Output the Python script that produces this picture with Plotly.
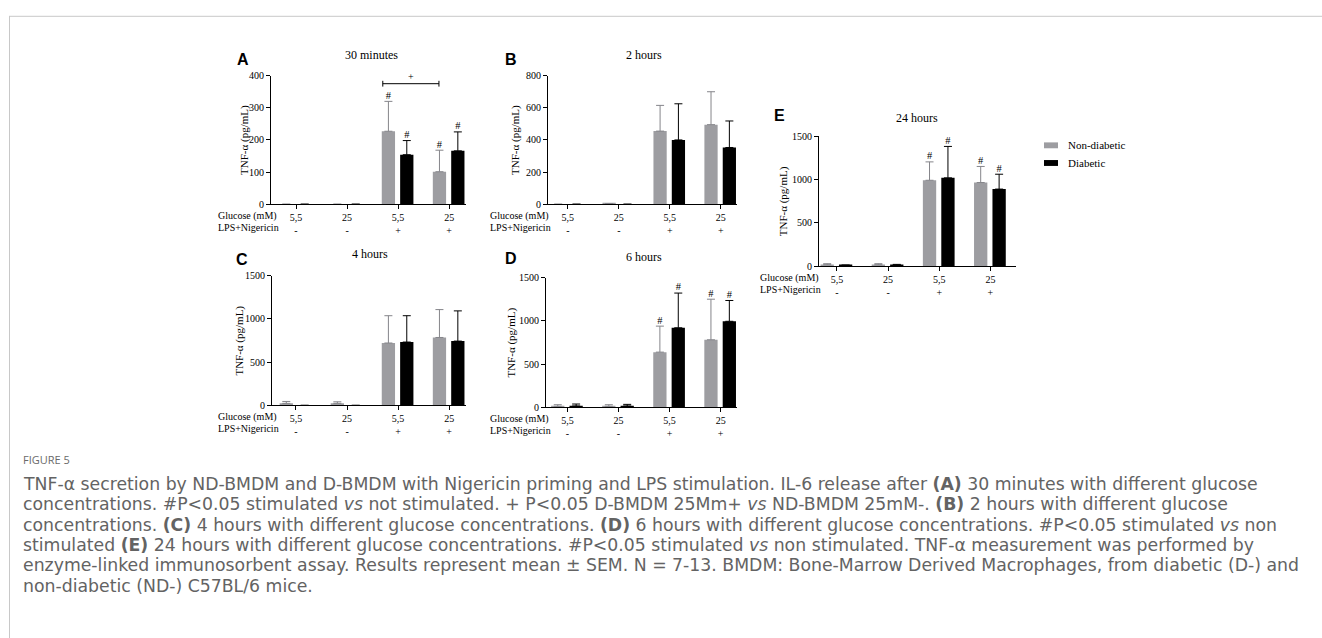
import math
import plotly.graph_objects as go

# ---------------- data ----------------
glucose = ["5,5", "25", "5,5", "25"]
lps = ["-", "-", "+", "+"]
series_names = ["Non-diabetic", "Diabetic"]
panel_titles = ["30 minutes", "2 hours", "4 hours", "6 hours", "24 hours"]
panel_letters = ["A", "B", "C", "D", "E"]

# means and SEM (pg/mL)
A_nd = [0, 0, 227, 101]
A_nd_sem = [0, 0, 93, 67]
A_d = [0, 0, 154, 166]
A_d_sem = [0, 0, 44, 59]
A_nd_marks = ["", "", "#", "#"]
A_d_marks = ["", "", "#", "#"]

B_nd = [0, 4, 455, 495]
B_nd_sem = [0, 0, 160, 205]
B_d = [0, 0, 400, 353]
B_d_sem = [0, 0, 225, 165]
B_nd_marks = ["", "", "", ""]
B_d_marks = ["", "", "", ""]

C_nd = [23, 23, 722, 786]
C_nd_sem = [22, 18, 316, 323]
C_d = [0, 0, 733, 744]
C_d_sem = [0, 0, 305, 350]
C_nd_marks = ["", "", "", ""]
C_d_marks = ["", "", "", ""]

D_nd = [11, 11, 639, 782]
D_nd_sem = [19, 19, 301, 470]
D_d = [15, 15, 921, 996]
D_d_sem = [23, 19, 402, 241]
D_nd_marks = ["", "", "#", "#"]
D_d_marks = ["", "", "#", "#"]

E_nd = [15, 15, 993, 967]
E_nd_sem = [12, 12, 213, 186]
E_d = [8, 11, 1021, 891]
E_d_sem = [3, 8, 364, 172]
E_nd_marks = ["", "", "#", "#"]
E_d_marks = ["", "", "#", "#"]

y_ranges = [[0, 400], [0, 800], [0, 1500], [0, 1500], [0, 1500]]
y_dticks = [100, 200, 500, 500, 500]

caption_label = "FIGURE 5"
caption_lines = [
    "TNF-α secretion by ND-BMDM and D-BMDM with Nigericin priming and LPS stimulation. IL-6 release after <b>(A)</b> 30 minutes with different glucose",
    "concentrations. #P&lt;0.05 stimulated <i>vs</i> not stimulated. + P&lt;0.05 D-BMDM 25Mm+ <i>vs</i> ND-BMDM 25mM-. <b>(B)</b> 2 hours with different glucose",
    "concentrations. <b>(C)</b> 4 hours with different glucose concentrations. <b>(D)</b> 6 hours with different glucose concentrations. #P&lt;0.05 stimulated <i>vs</i> non",
    "stimulated <b>(E)</b> 24 hours with different glucose concentrations. #P&lt;0.05 stimulated <i>vs</i> non stimulated. TNF-α measurement was performed by",
    "enzyme-linked immunosorbent assay. Results represent mean ± SEM. N = 7-13. BMDM: Bone-Marrow Derived Macrophages, from diabetic (D-) and",
    "non-diabetic (ND-) C57BL/6 mice.",
]

# ---------------- layout helpers ----------------
W, H = 1322, 638
def fx(p):
    return p / W
def fy(p):
    return 1 - p / H

SERIF = "Liberation Serif"
SANS = "Liberation Sans"
CAP_FONT = "DejaVu Sans"
GRAY = "#9d9da1"
GRAY_ERR = "#85858a"

panels = [
    dict(nd=A_nd, nds=A_nd_sem, d=A_d, ds=A_d_sem, ndm=A_nd_marks, dm=A_d_marks,
         box=(271, 466, 71, 202), xr=[-0.49, 3.33], lab_x=216, letter=(243, 55), tpos=(372, 50), ytx=245),
    dict(nd=B_nd, nds=B_nd_sem, d=B_d, ds=B_d_sem, ndm=B_nd_marks, dm=B_d_marks,
         box=(548, 737, 71, 202), xr=[-0.39, 3.32], lab_x=488, letter=(511, 55), tpos=(644, 50), ytx=516),
    dict(nd=C_nd, nds=C_nd_sem, d=C_d, ds=C_d_sem, ndm=C_nd_marks, dm=C_d_marks,
         box=(272, 466, 275, 407), xr=[-0.47, 3.33], lab_x=216, letter=(242, 258), tpos=(370, 253), ytx=240),
    dict(nd=D_nd, nds=D_nd_sem, d=D_d, ds=D_d_sem, ndm=D_nd_marks, dm=D_d_marks,
         box=(546, 737, 277, 409), xr=[-0.42, 3.32], lab_x=488, letter=(511, 257), tpos=(644, 256), ytx=512),
    dict(nd=E_nd, nds=E_nd_sem, d=E_d, ds=E_d_sem, ndm=E_nd_marks, dm=E_d_marks,
         box=(819, 1016, 133, 265), xr=[-0.35, 3.5], lab_x=758, letter=(779, 112), tpos=(917, 114), ytx=783),
]

BAR_W = 0.26
OFF_ND = -0.32
OFF_D = 0.04
xpos = list(range(len(glucose)))
ticktext = [f"{g}<br>{l}" for g, l in zip(glucose, lps)]

fig = go.Figure()
annotations = []
shapes = []

for i, p in enumerate(panels):
    n = i + 1
    xa = "x" if n == 1 else f"x{n}"
    ya = "y" if n == 1 else f"y{n}"
    for vals, sems, marks, off, col, ecol, name in [
        (p["nd"], p["nds"], p["ndm"], OFF_ND, GRAY, GRAY_ERR, series_names[0]),
        (p["d"], p["ds"], p["dm"], OFF_D, "#000000", "#000000", series_names[1]),
    ]:
        # bars without a visible SEM get no error bar at all
        err = [s if s > 0 else math.nan for s in sems]
        errm = [0 if s > 0 else math.nan for s in sems]
        fig.add_trace(go.Bar(
            x=xpos, y=vals, width=BAR_W, offset=off, xaxis=xa, yaxis=ya,
            marker=dict(color=col, line=dict(width=0)), name=name, showlegend=False,
            error_y=dict(type="data", array=err, arrayminus=errm, symmetric=False,
                         color=ecol, thickness=1, width=4),
        ))
        tops = [v + s for v, s in zip(vals, sems)]
        fig.add_trace(go.Scatter(
            x=[x + off + BAR_W / 2 for x in xpos], y=tops, text=marks, mode="text",
            textposition="top center", textfont=dict(family=SERIF, size=10.5, color="#000"),
            xaxis=xa, yaxis=ya, showlegend=False, cliponaxis=False, hoverinfo="skip",
        ))
    x0, x1, y0, y1 = p["box"]
    fig.layout[("xaxis" if n == 1 else f"xaxis{n}")] = dict(
        domain=[fx(x0), fx(x1)], anchor=ya, range=p["xr"], tickmode="array",
        tickvals=xpos, ticktext=ticktext, showline=True, linecolor="#000", linewidth=1,
        ticks="outside", ticklen=4, tickcolor="#000", tickwidth=1, showgrid=False,
        zeroline=False, tickfont=dict(family=SERIF, size=10, color="#000"), fixedrange=True,
    )
    fig.layout[("yaxis" if n == 1 else f"yaxis{n}")] = dict(
        domain=[fy(y1), fy(y0)], anchor=xa, range=y_ranges[i], dtick=y_dticks[i],
        showline=True, linecolor="#000", linewidth=1, ticks="outside", ticklen=4,
        tickcolor="#000", tickwidth=1, showgrid=False, zeroline=False,
        tickfont=dict(family=SERIF, size=10, color="#000"), fixedrange=True,
    )
    annotations.append(dict(text=panel_titles[i], x=fx(p["tpos"][0]), y=fy(p["tpos"][1]),
                            xref="paper", yref="paper", showarrow=False, xanchor="center", yanchor="middle",
                            font=dict(family=SERIF, size=12, color="#000")))
    annotations.append(dict(text=f"<b>{panel_letters[i]}</b>", x=fx(p["letter"][0]), y=fy(p["letter"][1]),
                            xref="paper", yref="paper", showarrow=False, xanchor="center", yanchor="middle",
                            font=dict(family=SANS, size=16, color="#000")))
    annotations.append(dict(text="TNF-α (pg/mL)", x=fx(p["ytx"]), y=fy((y0 + y1) / 2),
                            xref="paper", yref="paper", showarrow=False, textangle=-90,
                            xanchor="center", yanchor="middle",
                            font=dict(family=SERIF, size=11, color="#000")))
    annotations.append(dict(text="Glucose (mM)", x=fx(p["lab_x"]), y=fy(y1 + 12),
                            xref="paper", yref="paper", showarrow=False, xanchor="left", yanchor="middle",
                            font=dict(family=SERIF, size=10, color="#000")))
    annotations.append(dict(text="LPS+Nigericin", x=fx(p["lab_x"]), y=fy(y1 + 24),
                            xref="paper", yref="paper", showarrow=False, xanchor="left", yanchor="middle",
                            font=dict(family=SERIF, size=10, color="#000")))

# significance bracket in panel A
br_y = 375
shapes.append(dict(type="line", xref="x", yref="y", x0=1.70, x1=2.80, y0=br_y, y1=br_y,
                   line=dict(color="#000", width=1)))
for bx in (1.70, 2.80):
    shapes.append(dict(type="line", xref="x", yref="y", x0=bx, x1=bx, y0=br_y - 9, y1=br_y + 9,
                       line=dict(color="#000", width=1)))
annotations.append(dict(text="+", x=2.25, y=br_y, xref="x", yref="y", showarrow=False,
                        yanchor="bottom", font=dict(family=SERIF, size=10, color="#000")))

# legend
for k, (col, ytop) in enumerate([(GRAY, 139), ("#000000", 157)]):
    shapes.append(dict(type="rect", xref="paper", yref="paper", x0=fx(1044), x1=fx(1058),
                       y0=fy(ytop + 6), y1=fy(ytop), fillcolor=col, line=dict(width=0)))
    annotations.append(dict(text=series_names[k], x=fx(1066), y=fy(ytop + 3), xref="paper", yref="paper",
                            showarrow=False, xanchor="left", yanchor="middle",
                            font=dict(family=SERIF, size=11, color="#000")))

# card border
shapes.append(dict(type="line", xref="paper", yref="paper", x0=fx(10), x1=fx(1340), y0=fy(10.5), y1=fy(10.5),
                   line=dict(color="#c8c8c8", width=1)))
shapes.append(dict(type="line", xref="paper", yref="paper", x0=fx(9.5), x1=fx(9.5), y0=fy(10), y1=fy(660),
                   line=dict(color="#c8c8c8", width=1)))

# caption
annotations.append(dict(text=caption_label, x=fx(21), y=fy(462), xref="paper", yref="paper", showarrow=False,
                        xanchor="left", yanchor="middle", font=dict(family="Open Sans", size=11, color="#6a6a6a")))
for k, line in enumerate(caption_lines):
    annotations.append(dict(text=line, x=fx(21), y=fy(487 + 20.8 * k), xref="paper", yref="paper",
                            showarrow=False, xanchor="left", yanchor="middle",
                            font=dict(family=CAP_FONT, size=17.3, color="#636363")))

fig.update_layout(
    width=W, height=H, margin=dict(l=0, r=0, t=0, b=0),
    paper_bgcolor="#ffffff", plot_bgcolor="rgba(0,0,0,0)",
    barmode="overlay", showlegend=False,
    annotations=annotations, shapes=shapes,
)

fig.write_html("out.html", config={"displayModeBar": False},
               post_script="document.body.style.margin='0';")
